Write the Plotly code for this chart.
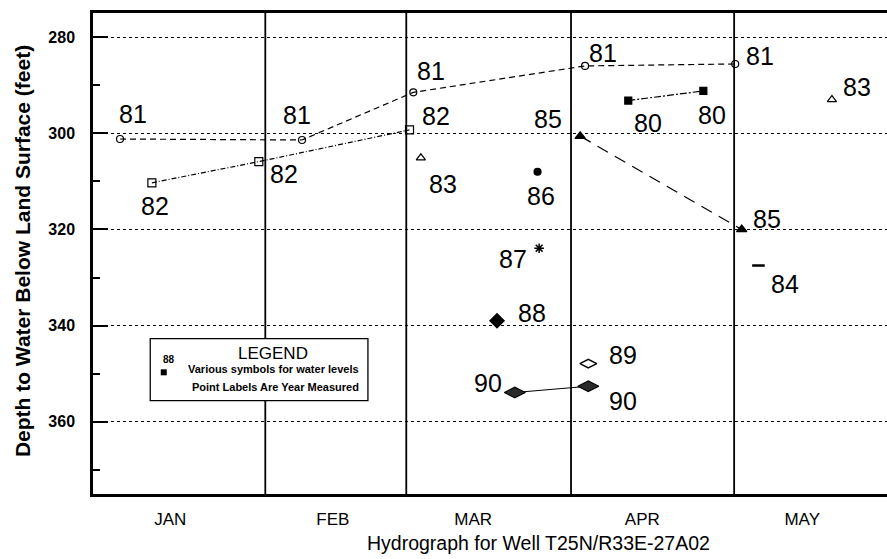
import plotly.graph_objects as go

# ---- axis content ----
month_names = ["JAN", "FEB", "MAR", "APR", "MAY"]
month_centers = [14.3, 44.4, 70.4, 101.7, 131.3]
month_bounds = [31.9, 58.0, 88.5, 118.7]
depth_ticks = [280, 300, 320, 340, 360]
depth_minor = [290, 310, 330, 350, 370]

# ---- water-level readings (x = position in season, y = depth in feet) ----
yr81_x = [5.0, 38.7, 59.3, 91.1, 118.9]
yr81_y = [301.2, 301.4, 291.5, 286.0, 285.6]

yr82_x = [10.9, 30.7, 58.6]
yr82_y = [310.3, 305.9, 299.3]

yr80_x = [99.1, 113.0]
yr80_y = [293.2, 291.2]

yr85_x = [90.2, 120.1]
yr85_y = [300.6, 320.0]

yr83_x = [60.7, 136.8]
yr83_y = [305.1, 293.0]

yr86_x = [82.3]
yr86_y = [308.0]

yr87_x = [82.6]
yr87_y = [323.9]

yr84_x = [123.2]
yr84_y = [327.5]

yr88_x = [74.8]
yr88_y = [339.0]

yr89_x = [91.7]
yr89_y = [347.9]

yr90_x = [78.1, 91.7]
yr90_y = [353.9, 352.6]

# legend sample point
legend_x = [13.1]
legend_y = [349.7]

SANS = "Liberation Sans, Arial, sans-serif"
NARROW = "Liberation Sans Narrow, Arial Narrow, Arial, sans-serif"
LABEL_FONT = dict(family=SANS, size=25, color="black")

fig = go.Figure()

# month separators and legend box sit under the data marks
for b in month_bounds:
    fig.add_shape(type="line", xref="x", yref="paper", x0=b, x1=b, y0=0, y1=1,
                  line=dict(color="black", width=1.8), layer="between")
fig.add_shape(type="rect", xref="x", yref="paper", x0=10.6, x1=50.9, y0=0.194, y1=0.323,
              line=dict(color="black", width=1.3), fillcolor="white", layer="between")


def add_year(xs, ys, year, symbol, size, fill, dash, offsets, line_w=1.2, mline=1.2):
    mode = "lines+markers" if dash is not None and len(xs) > 1 else "markers"
    fig.add_trace(go.Scatter(
        x=xs, y=ys, mode=mode,
        line=dict(color="black", width=line_w, dash=dash or "solid"),
        marker=dict(symbol=symbol, size=size, color=fill,
                    line=dict(color="black", width=mline)),
        hoverinfo="skip", showlegend=False,
    ))
    for x, y, (dx, dy) in zip(xs, ys, offsets):
        fig.add_annotation(x=x, y=y, text=year, showarrow=False,
                           xanchor="center", yanchor="middle",
                           xshift=dx, yshift=-dy, font=LABEL_FONT)


add_year(yr81_x, yr81_y, "81", "circle-open", 7, "black", "6px,4px",
         [(13, -25), (-5, -25), (18, -21), (18, -13), (25, -8)])
add_year(yr82_x, yr82_y, "82", "square-open", 8, "black", "5px,2px,1px,2px",
         [(3, 23), (25, 12), (26, -14)])
add_year(yr80_x, yr80_y, "80", "square", 7, "black", "7px,2px,2px,2px",
         [(20, 22), (9, 24)])
add_year(yr85_x, yr85_y, "85", "triangle-up", 9, "black", "12px,8px",
         [(-32, -17), (25, -10)])
add_year(yr83_x, yr83_y, "83", "triangle-up-open", 8, "black", None,
         [(22, 26), (25, -13)])
add_year(yr86_x, yr86_y, "86", "circle", 7, "black", None, [(3, 24)])
add_year(yr87_x, yr87_y, "87", "asterisk-open", 8, "black", None, [(-26, 11)], mline=1.5)
add_year(yr84_x, yr84_y, "84", "line-ew-open", 9, "black", None, [(27, 18)], mline=2.5)
add_year(yr88_x, yr88_y, "88", "diamond", 11, "black", None, [(35, -8)])
add_year(yr89_x, yr89_y, "89", "diamond-wide-open", 12, "black", None, [(35, -9)], mline=1.5)
add_year(yr90_x, yr90_y, "90", "diamond-wide", 15, "#2a2a2a", "solid",
         [(-27, -10), (35, 15)])

# legend contents
fig.add_trace(go.Scatter(x=legend_x, y=legend_y, mode="markers",
                         marker=dict(symbol="square", size=6, color="black"),
                         hoverinfo="skip", showlegend=False))
fig.add_annotation(x=33.3, y=0.292, xref="x", yref="paper", text="LEGEND", showarrow=False,
                   xanchor="center", yanchor="middle",
                   font=dict(family=SANS, size=17, color="black"))
fig.add_annotation(x=33.4, y=0.259, xref="x", yref="paper",
                   text="<b>Various symbols for water levels</b>", showarrow=False,
                   xanchor="center", yanchor="middle",
                   font=dict(family=NARROW, size=11, color="black"))
fig.add_annotation(x=33.7, y=0.223, xref="x", yref="paper",
                   text="<b>Point Labels Are Year Measured</b>", showarrow=False,
                   xanchor="center", yanchor="middle",
                   font=dict(family=NARROW, size=11, color="black"))
fig.add_annotation(x=14.1, y=0.279, xref="x", yref="paper", text="<b>88</b>", showarrow=False,
                   xanchor="center", yanchor="middle",
                   font=dict(family=NARROW, size=10, color="black"))

# axis titles
fig.add_annotation(x=-0.0894, y=0.505, xref="paper", yref="paper", textangle=-90,
                   xanchor="center", yanchor="middle",
                   text="<b>Depth to Water Below Land Surface (feet)</b>", showarrow=False,
                   font=dict(family=SANS, size=21, color="black"))
fig.add_annotation(x=0.5617, y=-0.102, xref="paper", yref="paper",
                   xanchor="center", yanchor="middle",
                   text="Hydrograph for Well T25N/R33E-27A02", showarrow=False,
                   font=dict(family=NARROW, size=19.5, color="black"))

fig.update_layout(
    width=887, height=559,
    margin=dict(l=93, r=0, t=13, b=65),
    paper_bgcolor="white", plot_bgcolor="white",
    xaxis=dict(
        range=[0, 147], showline=True, linecolor="black", linewidth=2.5, mirror=True,
        tickmode="array", tickvals=month_centers, ticktext=month_names, ticks="",
        showgrid=False, zeroline=False, ticklabelstandoff=8,
        tickfont=dict(family=NARROW, size=17, color="black"),
    ),
    yaxis=dict(
        range=[375, 275], showline=True, linecolor="black", linewidth=2.5,
        tickmode="array", tickvals=depth_ticks, ticks="inside", ticklen=15, tickwidth=2,
        tickcolor="black",
        minor=dict(tickvals=depth_minor, ticks="inside", ticklen=7, tickwidth=1.5,
                   tickcolor="black", showgrid=False),
        showgrid=True, gridcolor="black", gridwidth=1, griddash="dot",
        zeroline=False, ticklabelstandoff=12,
        tickfont=dict(family=NARROW, size=16, color="black", weight="bold"),
    ),
)

fig.write_html("out.html")
